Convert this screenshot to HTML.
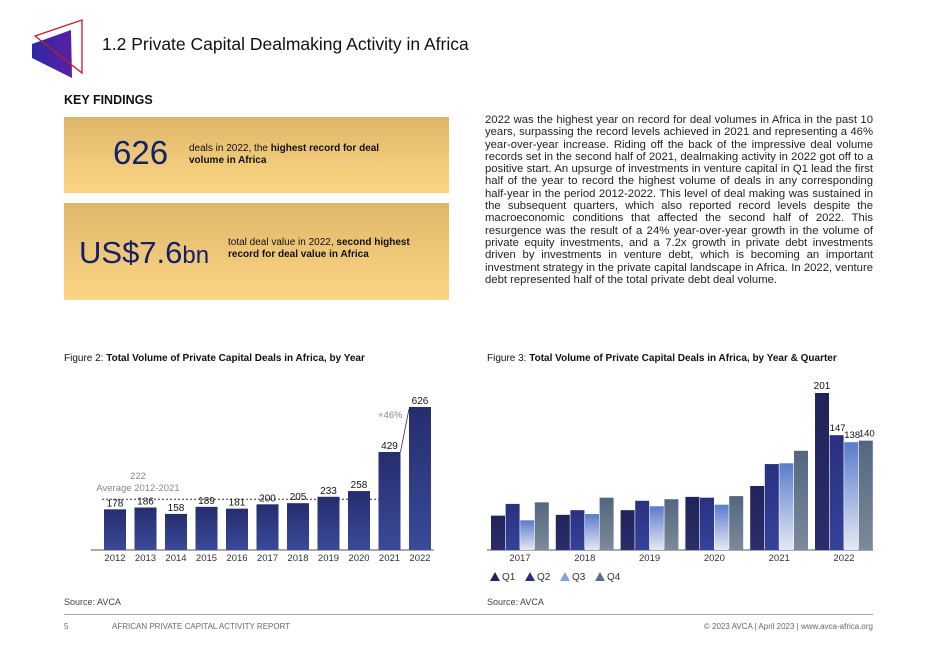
<!DOCTYPE html>
<html><head><meta charset="utf-8"><style>
body{margin:0;width:936px;height:662px;background:#fff;position:relative;overflow:hidden;font-family:"Liberation Sans",sans-serif;color:#111}
.a{position:absolute}
.box{position:absolute;left:64px;width:385px;background:linear-gradient(#dfb76a,#fcd584)}
.para{position:absolute;left:485px;top:114px;width:388px;font-size:11.3px;line-height:12.3px;text-align:justify;color:#222}
</style></head><body>
<svg class="a" style="left:0;top:0" width="100" height="90">
<defs><linearGradient id="lg" x1="0" x2="1"><stop offset="0" stop-color="#2a2aa8"/><stop offset="1" stop-color="#5a1fa0"/></linearGradient></defs>
<polygon points="32,44 71,30 72,78 32,58" fill="url(#lg)"/>
<polygon points="35,36 82,20 82,73" fill="none" stroke="#c41a2a" stroke-width="1.3"/>
</svg>
<div class="a" style="left:102px;top:34px;font-size:17.5px">1.2 Private Capital Dealmaking Activity in Africa</div>
<div class="a" style="left:64px;top:93px;font-size:12.5px;font-weight:bold">KEY FINDINGS</div>
<div class="box" style="top:117px;height:76px">
<div class="a" style="left:49px;top:17px;font-size:33px;color:#13206a">626</div>
<div class="a" style="left:125px;top:26px;width:210px;font-size:10px;line-height:12px">deals in 2022, the <b>highest record for deal volume in Africa</b></div></div>
<div class="box" style="top:203px;height:97px">
<div class="a" style="left:15px;top:32px;font-size:31px;color:#13206a">US$7.6<span style="font-size:24px">bn</span></div>
<div class="a" style="left:164px;top:34px;width:215px;font-size:10px;line-height:12px">total deal value in 2022, <b>second highest record for deal value in Africa</b></div></div>
<div class="para">2022 was the highest year on record for deal volumes in Africa in the past 10 years, surpassing the record levels achieved in 2021 and representing a 46% year-over-year increase. Riding off the back of the impressive deal volume records set in the second half of 2021, dealmaking activity in 2022 got off to a positive start. An upsurge of investments in venture capital in Q1 lead the first half of the year to record the highest volume of deals in any corresponding half-year in the period 2012-2022. This level of deal making was sustained in the subsequent quarters, which also reported record levels despite the macroeconomic conditions that affected the second half of 2022. This resurgence was the result of a 24% year-over-year growth in the volume of private equity investments, and a 7.2x growth in private debt investments driven by investments in venture debt, which is becoming an important investment strategy in the private capital landscape in Africa. In 2022, venture debt represented half of the total private debt deal volume.</div>
<div class="a" style="left:64px;top:353px;font-size:10px">Figure 2: <b>Total Volume of Private Capital Deals in Africa, by Year</b></div>
<div class="a" style="left:487px;top:353px;font-size:10px">Figure 3: <b>Total Volume of Private Capital Deals in Africa, by Year &amp; Quarter</b></div>
<svg class="a" id="c1" style="left:0;top:0" width="936" height="662"></svg>
<svg class="a" id="c2" style="left:0;top:0" width="936" height="662"></svg>
<div class="a" style="left:64px;top:597px;font-size:9px;color:#444">Source: AVCA</div>
<div class="a" style="left:487px;top:597px;font-size:9px;color:#444">Source: AVCA</div>
<div class="a" style="left:64px;top:614px;width:809px;border-top:1px solid #9aa"></div>
<div class="a" style="left:64px;top:622px;font-size:8px;color:#667">5</div>
<div class="a" style="left:112px;top:622px;font-size:8px;color:#667">AFRICAN PRIVATE CAPITAL ACTIVITY REPORT</div>
<div class="a" style="right:63px;top:622px;font-size:8px;color:#667">© 2023 AVCA | April 2023 | www.avca-africa.org</div>
<script>
const years1=["2012","2013","2014","2015","2016","2017","2018","2019","2020","2021","2022"];
const deals1=[178,186,158,189,181,200,205,233,258,429,626];
const avg1=222;
const years2=["2017","2018","2019","2020","2021","2022"];
const q1=[44,45,51,68,82,201];
const q2=[59,51,63,67,110,147];
const q3=[38,46,56,58,111,138];
const q4=[61,67,65,69,127,140];
const NS="http://www.w3.org/2000/svg";
function mk(p,t,a){const e=document.createElementNS(NS,t);for(const k in a)e.setAttribute(k,a[k]);p.appendChild(e);return e;}
const c1=document.getElementById('c1'),c2=document.getElementById('c2');
const d=mk(c1,'defs',{});
function grad(id,a,b){const g=mk(d,'linearGradient',{id:id,x1:0,x2:0,y1:0,y2:1});mk(g,'stop',{offset:0,'stop-color':a});mk(g,'stop',{offset:1,'stop-color':b});}
grad('g1','#262d6e','#3a4a9a');grad('gq1','#22235a','#2a2d6a');grad('gq2','#2a3080','#34439a');grad('gq3','#5a7ccc','#e6e8f4');grad('gq4','#52677f','#7c8a9a');
const base1=550,sc1=143/626,x1=i=>104+i*30.5,bw1=22;
mk(c1,'line',{x1:91,x2:434,y1:base1,y2:base1,stroke:'#555','stroke-width':1});
const ay=base1-avg1*sc1;
deals1.forEach((v,i)=>{const x=x1(i),y=base1-v*sc1;
const r=mk(c1,'rect',{x:x,y:y,width:bw1,height:v*sc1,fill:'url(#g1)'});


const t=mk(c1,'text',{x:x+bw1/2,y:y-3,'text-anchor':'middle','font-size':10,fill:'#111'});t.textContent=v;
const l=mk(c1,'text',{x:x+bw1/2,y:base1+11,'text-anchor':'middle','font-size':9.5,fill:'#333'});l.textContent=years1[i];});
mk(c1,'line',{x1:x1(0)-2,x2:x1(9),y1:ay,y2:ay,stroke:'#333','stroke-dasharray':'2,2','stroke-width':1});
let t=mk(c1,'text',{x:138,y:479,'text-anchor':'middle','font-size':9.5,fill:'#888'});t.textContent=avg1;
t=mk(c1,'text',{x:138,y:491,'text-anchor':'middle','font-size':9.5,fill:'#888'});t.textContent='Average 2012-2021';
mk(c1,'line',{x1:x1(9)+bw1,y1:base1-deals1[9]*sc1,x2:x1(10),y2:base1-deals1[10]*sc1+2,stroke:'#333','stroke-width':0.8});
t=mk(c1,'text',{x:378,y:418,'font-size':9.5,fill:'#888'});t.textContent='+46%';
const base2=550,sc2=157/201,gx=i=>491+i*64.8,bw2=14;
const series=[q1,q2,q3,q4],fills=['url(#gq1)','url(#gq2)','url(#gq3)','url(#gq4)'];
mk(c2,'line',{x1:487,x2:873,y1:base2,y2:base2,stroke:'#555','stroke-width':1});
years2.forEach((yr,i)=>{series.forEach((s,q)=>{const x=gx(i)+q*14.6,h=s[i]*sc2;
const r=mk(c2,'rect',{x:x,y:base2-h,width:bw2,height:h,fill:fills[q]});


if(i===years2.length-1){const tt=mk(c2,'text',{x:x+bw2/2+(q?1:0),y:base2-h-4,'text-anchor':'middle','font-size':q?9.5:10,fill:'#111'});tt.textContent=s[i];}});
const l=mk(c2,'text',{x:gx(i)+29,y:base2+11,'text-anchor':'middle','font-size':9.5,fill:'#333'});l.textContent=yr;});
const lc=['#22235a','#2a3080','#8aa0dc','#5a6f86'];
['Q1','Q2','Q3','Q4'].forEach((n,q)=>{const x=490+q*35;
const g=mk(c2,'g',{});


mk(g,'polygon',{points:`${x},${581} ${x+5},${572} ${x+10},${581}`,fill:lc[q]});
const tt=mk(g,'text',{x:x+12,y:580,'font-size':10,fill:'#333'});tt.textContent=n;});
</script>
</body></html>
